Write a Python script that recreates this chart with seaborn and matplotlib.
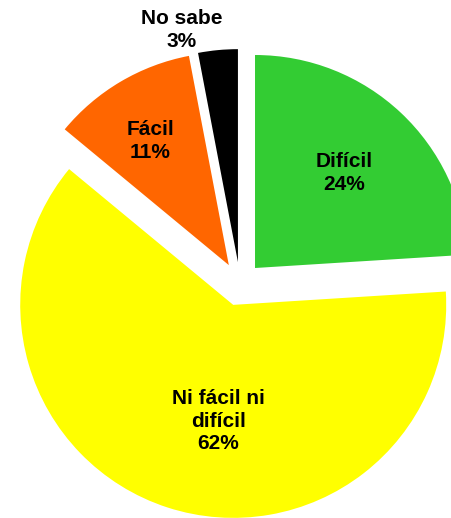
import numpy as np
import seaborn as sns
import matplotlib.pyplot as plt

# data
categories = ["Difícil", "Ni fácil ni\ndifícil", "Fácil", "No sabe"]
values = [24, 62, 11, 3]
colors = ["#33CC33", "#FFFF00", "#FF6600", "#000000"]
explode = [0.103, 0.103, 0.103, 0.103]
# label placement: (radius fraction, angle shift in degrees)
label_pos = [(0.61, 0.0), (0.55, 10.7), (0.69, 1.8), (1.12, 8.2)]

sns.set_theme(style="white")
plt.rcParams['font.family'] = ['Liberation Sans', 'DejaVu Sans']

fig = plt.figure(figsize=(4.52, 5.18), dpi=100)
ax = fig.add_axes([0, 0, 1, 1])

wedges, _ = ax.pie(values, colors=colors, explode=explode, startangle=90,
                   counterclock=False, radius=1.0,
                   wedgeprops=dict(linewidth=0))

for w, cat, v, (rf, dshift) in zip(wedges, categories, values, label_pos):
    mid = np.deg2rad((w.theta1 + w.theta2) / 2 + dshift)
    cx, cy = w.center
    x = cx + rf * w.r * np.cos(mid)
    y = cy + rf * w.r * np.sin(mid)
    ax.text(x, y, f"{cat}\n{v}%", ha="center", va="center",
            fontsize=15, fontweight="bold", color="black", linespacing=1.25)

# pie centre sits at (240, 284) px, radius 213 px
ax.set_aspect("auto")
ax.set_xlim(-240 / 213, (452 - 240) / 213)
ax.set_ylim(-(518 - 284) / 213, 284 / 213)
ax.axis("off")

plt.savefig("out.png", dpi=100)
